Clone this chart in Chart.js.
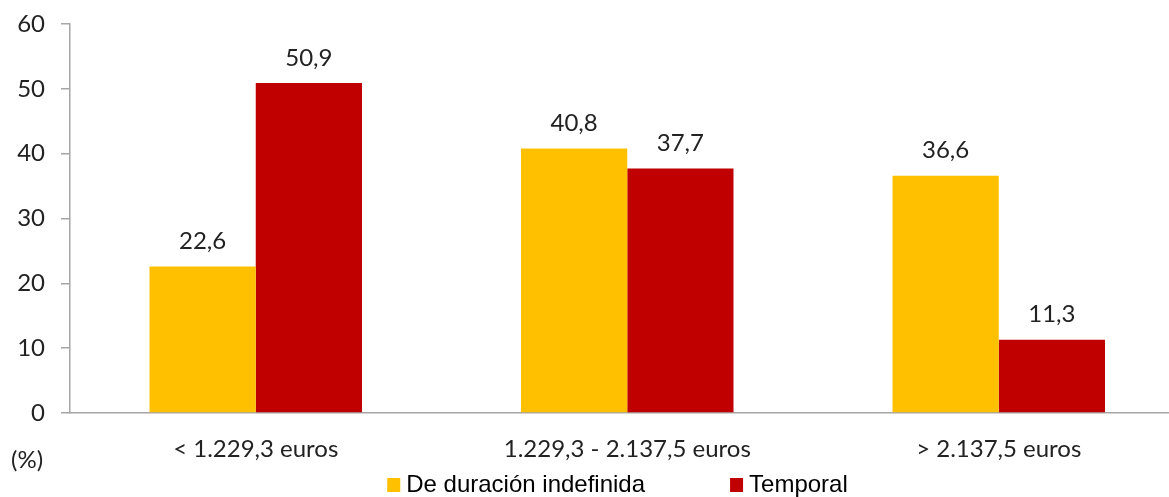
<!DOCTYPE html>
<html><head><meta charset="utf-8">
<script src="https://cdn.jsdelivr.net/npm/chart.js@4.4.1/dist/chart.umd.min.js"></script>
<style>html,body{margin:0;padding:0;background:#fff;overflow:hidden;} #wrap{position:relative;width:1200px;height:497px;}</style>
</head><body><div id="wrap"><canvas id="c"></canvas></div>
<script>
const categories = ['< 1.229,3 euros', '1.229,3 - 2.137,5 euros', '> 2.137,5 euros'];
const seriesNames = ['De duración indefinida', 'Temporal'];
const indefinida = [22.6, 40.8, 36.6];
const temporal = [50.9, 37.7, 11.3];
const seriesColors = ['#FFC000', '#C00000'];
const yMin = 0, yMax = 60, yStep = 10;
const unitLabel = '(%)';

const TXT = '#222222';
const AXIS = '#a6a6a6';
const tickFont = {family: 'Lato', size: 24};

const fmt = v => v.toFixed(1).replace('.', ',');

const valueLabels = {
  id: 'valueLabels',
  afterDatasetsDraw(chart) {
    const ctx = chart.ctx;
    ctx.save();
    ctx.font = '24px Lato';
    ctx.fillStyle = TXT;
    ctx.textAlign = 'center';
    ctx.textBaseline = 'middle';
    chart.data.datasets.forEach((ds, i) => {
      const meta = chart.getDatasetMeta(i);
      meta.data.forEach((bar, j) => {
        ctx.fillText(fmt(ds.data[j]), bar.x, bar.y - 25);
      });
    });
    ctx.restore();
  }
};

const extras = {
  id: 'extras',
  afterDraw(chart) {
    const ctx = chart.ctx;
    ctx.save();
    ctx.font = '24px Lato';
    ctx.fillStyle = TXT;
    ctx.textAlign = 'left';
    ctx.textBaseline = 'middle';
    ctx.fillText(unitLabel, 11, 460);
    ctx.font = '24px "Liberation Sans"';
    const box = 13, gapText = 6, gapItem = 85;
    const items = chart.data.datasets.map(ds => ({text: ds.label, color: ds.backgroundColor, w: ctx.measureText(ds.label).width}));
    let total = 0;
    items.forEach((it, k) => { total += box + gapText + it.w + (k < items.length - 1 ? gapItem : 0); });
    let x = 617.5 - total / 2;
    const cy = 485;
    items.forEach(it => {
      ctx.fillStyle = it.color;
      ctx.fillRect(x, cy - 7, box, 14);
      x += box + gapText;
      ctx.fillStyle = '#000';
      ctx.fillText(it.text, x, cy);
      x += it.w + gapItem;
    });
    ctx.restore();
  }
};

new Chart(document.getElementById('c'), {
  type: 'bar',
  data: {
    labels: categories,
    datasets: [
      {label: seriesNames[0], data: indefinida, backgroundColor: seriesColors[0], borderWidth: 0},
      {label: seriesNames[1], data: temporal, backgroundColor: seriesColors[1], borderWidth: 0}
    ]
  },
  options: {
    responsive: true,
    maintainAspectRatio: false,
    animation: false,
    events: [],
    layout: {padding: {top: 24, left: 0, right: 15.5, bottom: 0}},
    datasets: {bar: {categoryPercentage: 0.572, barPercentage: 1.0}},
    plugins: {legend: {display: false}, tooltip: {enabled: false}},
    scales: {
      x: {
        grid: {display: false},
        border: {display: true, color: AXIS, width: 1.5},
        ticks: {font: tickFont, color: TXT, padding: 14, maxRotation: 0},
        afterFit: s => { s.height = 84; s.paddingLeft = 0; s.paddingRight = 0; }
      },
      y: {
        min: yMin, max: yMax,
        ticks: {stepSize: yStep, font: tickFont, color: TXT, padding: 16},
        grid: {display: true, drawOnChartArea: false, drawTicks: true, tickLength: 9, color: AXIS, lineWidth: 1.5},
        border: {display: true, color: AXIS, width: 1.5},
        afterFit: s => { s.width = 70; s.paddingTop = 0; s.paddingBottom = 0; }
      }
    }
  },
  plugins: [valueLabels, extras]
});
</script>
</body></html>
